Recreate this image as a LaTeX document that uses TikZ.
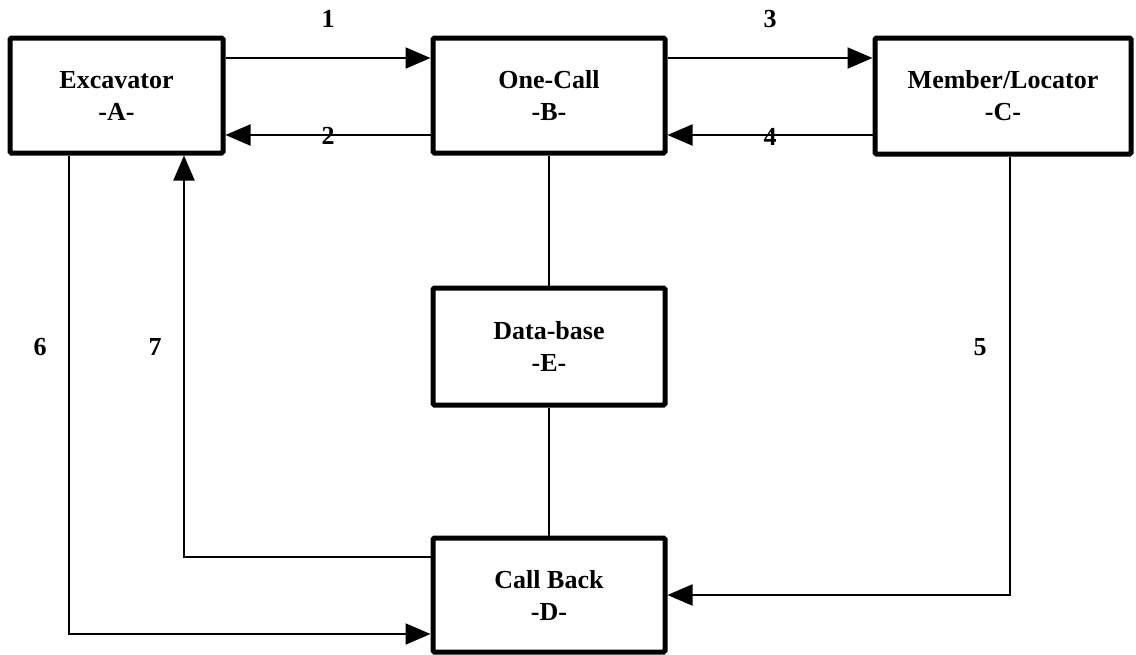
\documentclass[tikz,border=0pt]{standalone}
\usepackage{fontspec}
\setmainfont{Liberation Serif}
\usetikzlibrary{arrows.meta}
\begin{document}
\begin{tikzpicture}[x=1pt,y=-1pt,
  box/.style={draw, line width=5pt, rounded corners=1.5pt, inner sep=0pt, align=center,
    font=\fontsize{26}{32}\selectfont\bfseries},
  conn/.style={line width=2pt},
  arr/.style={conn, -{Triangle[length=25pt,width=21pt]}},
  lbl/.style={inner sep=0pt, font=\fontsize{26}{30}\selectfont\bfseries}]
\useasboundingbox (0,0) rectangle (1136,654);
\node[box, minimum width=213pt, minimum height=115pt] (A) at (116.5,95.5) {Excavator\\-A-};
\node[box, minimum width=232pt, minimum height=115pt] (B) at (549,95.5) {One-Call\\-B-};
\node[box, minimum width=256pt, minimum height=116pt] (C) at (1003,96) {Member/Locator\\-C-};
\node[box, minimum width=232pt, minimum height=117pt] (E) at (549,346.5) {Data-base\\-E-};
\node[box, minimum width=232pt, minimum height=114pt] (D) at (549,595) {Call Back\\-D-};
\coordinate (yt) at (0,58);
\coordinate (yb) at (0,135);
\coordinate (x5) at (1010,0);
\coordinate (x6) at (69,0);
\coordinate (y6) at (0,634);
\coordinate (x7) at (184,0);
\coordinate (y7) at (0,557);
\draw[arr] (A.east |- yt) -- (B.west |- yt);
\draw[arr] (B.west |- yb) -- (A.east |- yb);
\draw[arr] (B.east |- yt) -- (C.west |- yt);
\draw[arr] (C.west |- yb) -- (B.east |- yb);
\draw[conn] (B.south) -- (E.north);
\draw[conn] (E.south) -- (D.north);
\draw[arr] (C.south -| x5) |- (D.east);
\draw[arr] (A.south -| x6) |- (D.west |- y6);
\draw[arr] (D.west |- y7) -| (A.south -| x7);
\node[lbl] (l1) at (328,19) {1};
\node[lbl] (l2) at (328,136) {2};
\node[lbl] (l3) at (770,19) {3};
\node[lbl] (l4) at (770,137) {4};
\node[lbl] (l5) at (980,347) {5};
\node[lbl] (l6) at (40,347) {6};
\node[lbl] (l7) at (155,347) {7};
\end{tikzpicture}
\end{document}
